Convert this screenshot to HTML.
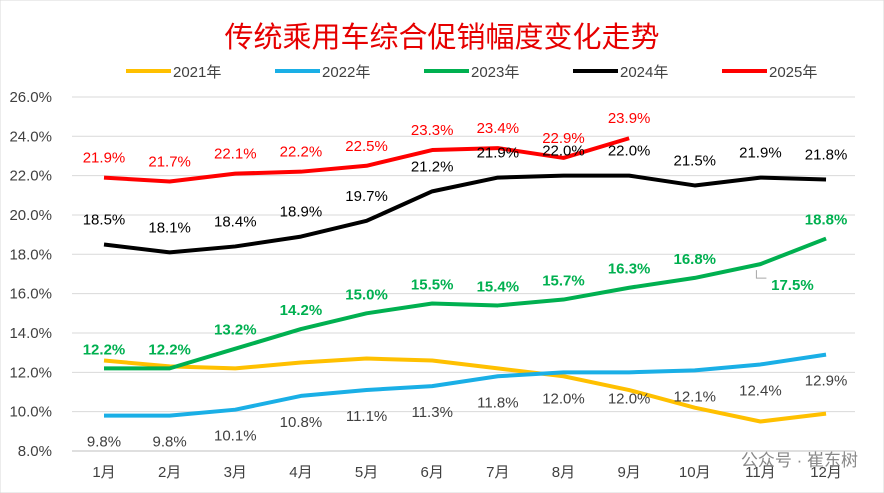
<!DOCTYPE html>
<html><head><meta charset="utf-8"><style>
body{margin:0;background:#fff}
svg{display:block;font-family:"Liberation Sans","Noto Sans CJK SC",sans-serif}
</style></head><body>
<svg id="chart" width="884" height="493">
<rect x="0" y="0" width="884" height="493" fill="#fff" stroke="#d9d9d9"/>
<text x="442" y="47" text-anchor="middle" font-size="29" fill="#e60000">传统乘用车综合促销幅度变化走势</text>
<g id="grid"></g>
<g id="legend"></g>
<g id="series"></g>
<text x="858" y="466" text-anchor="end" font-size="17" fill="#888">公众号 · 崔东树</text>
</svg>
<script>
const months=["1月","2月","3月","4月","5月","6月","7月","8月","9月","10月","11月","12月"];
const yTicks=[8,10,12,14,16,18,20,22,24,26];
const seriesNames=["2021年","2022年","2023年","2024年","2025年"];
const v2021=[12.6,12.3,12.2,12.5,12.7,12.6,12.2,11.8,11.1,10.2,9.5,9.9];
const v2022=[9.8,9.8,10.1,10.8,11.1,11.3,11.8,12.0,12.0,12.1,12.4,12.9];
const v2023=[12.2,12.2,13.2,14.2,15.0,15.5,15.4,15.7,16.3,16.8,17.5,18.8];
const v2024=[18.5,18.1,18.4,18.9,19.7,21.2,21.9,22.0,22.0,21.5,21.9,21.8];
const v2025=[21.9,21.7,22.1,22.2,22.5,23.3,23.4,22.9,23.9];
const NS="http://www.w3.org/2000/svg";
const xs=i=>104+i*65.64;
const ys=v=>451-(v-8)*19.67;
function mk(tag,attrs,parent,txt){const e=document.createElementNS(NS,tag);for(const k in attrs)e.setAttribute(k,attrs[k]);if(txt!==undefined)e.textContent=txt;parent.appendChild(e);return e;}
const grid=document.getElementById('grid');
yTicks.forEach(t=>{
 const l=mk('line',{x1:72,x2:855,y1:ys(t),y2:ys(t),stroke:t===8?'#bfbfbf':'#d9d9d9','stroke-width':1},grid);
 
 
 const tx=mk('text',{x:52,y:ys(t)+5,'text-anchor':'end','font-size':15,fill:'#404040'},grid,t.toFixed(1)+'%');
 
 
});
months.forEach((m,i)=>{
 const tx=mk('text',{x:xs(i),y:477,'text-anchor':'middle','font-size':15,fill:'#404040'},grid,m);
 
 
});
const colors=["#ffc000","#1aafe6","#00b050","#000000","#ff0000"];
const leg=document.getElementById('legend');
const legX=[126,275,424,573,722];
seriesNames.forEach((n,i)=>{
 const g=mk('g',{},leg);
 
 
 mk('line',{x1:legX[i],x2:legX[i]+45,y1:71,y2:71,stroke:colors[i],'stroke-width':4},g);
 mk('text',{x:legX[i]+47,y:77,'font-size':15,fill:'#404040'},g,n);
});
const ser=document.getElementById('series');
const all=[v2021,v2022,v2023,v2024,v2025];
all.forEach((vals,s)=>{
 const p=mk('polyline',{points:vals.map((v,i)=>xs(i)+','+ys(v)).join(' '),fill:'none',stroke:colors[s],'stroke-width':4,'stroke-linejoin':'round'},ser);
 
 
});
function lab(vals,dy,color,bold,name){
 vals.forEach((v,i)=>{
  let x=xs(i),y=ys(v)+dy;
  if(name==='label-2023'&&i===10){x+=32;y=ys(v)+26;}
  const t=mk('text',{x:x,y:y,'text-anchor':'middle','font-size':15,fill:color,'font-weight':bold?'bold':'normal'},ser,v.toFixed(1)+'%');
  
  
 });
}
lab(v2022,31,'#404040',false,'label-2022');
lab(v2023,-14,'#00b050',true,'label-2023');
lab(v2024,-20,'#000',false,'label-2024');
lab(v2025,-15,'#ff0000',false,'label-2025');
const ld=mk('polyline',{points:(xs(10)-4)+','+(ys(17.5)+6)+' '+(xs(10)-4)+','+(ys(17.5)+14)+' '+(xs(10)+6)+','+(ys(17.5)+14),fill:'none',stroke:'#a6a6a6','stroke-width':1},ser);


</script>
</body></html>
